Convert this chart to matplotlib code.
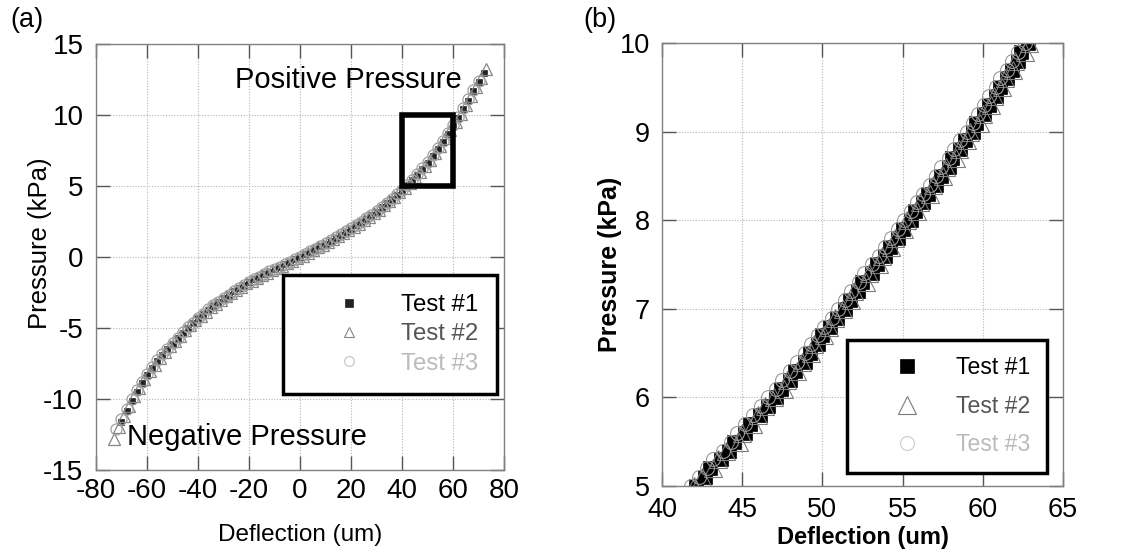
import matplotlib
matplotlib.use("Agg")
import matplotlib.pyplot as plt
from matplotlib.patches import Rectangle

plt.rcParams['font.family'] = ['Liberation Sans', 'DejaVu Sans']
plt.rcParams['axes.unicode_minus'] = False

# ---------------- Panel (a) data ----------------
defl_a1 = [-70, -68, -66, -64, -62, -60, -58, -56, -54, -52, -50, -48, -46, -44, -42, -40,
           -38, -36, -34, -32, -30, -28, -26, -24, -22, -20, -18, -16, -14, -12, -10, -8,
           -6, -4, -2, 0, 2, 4, 6, 8, 10, 12, 14, 16, 18, 20, 22, 24, 26, 28, 30, 32, 34,
           36, 38, 40, 42, 44, 46, 48, 50, 52, 54, 56, 58, 60, 62, 64, 66, 68, 70, 72]
press_a1 = [-11.60, -10.85, -10.15, -9.50, -8.90, -8.30, -7.82, -7.34, -6.90, -6.50, -6.10,
            -5.72, -5.34, -4.98, -4.64, -4.30, -4.00, -3.70, -3.42, -3.16, -2.90, -2.66,
            -2.42, -2.19, -1.97, -1.75, -1.57, -1.39, -1.21, -1.03, -0.85, -0.68, -0.51,
            -0.34, -0.17, 0.00, 0.19, 0.38, 0.57, 0.76, 0.95, 1.16, 1.37, 1.58, 1.79, 2.00,
            2.23, 2.47, 2.71, 2.95, 3.20, 3.49, 3.79, 4.09, 4.39, 4.70, 5.05, 5.41, 5.80,
            6.20, 6.60, 7.09, 7.59, 8.12, 8.66, 9.20, 9.80, 10.40, 11.02, 11.66, 12.30, 12.95]

defl_a2 = [-73, -71, -69, -67, -65, -63, -61, -59, -57, -55, -53, -51, -49, -47, -45, -43,
           -41, -39, -37, -35, -33, -31, -29, -27, -25, -23, -21, -19, -17, -15, -13, -11,
           -9, -7, -5, -3, -1, 1, 3, 5, 7, 9, 11, 13, 15, 17, 19, 21, 23, 25, 27, 29, 31,
           33, 35, 37, 39, 41, 43, 45, 47, 49, 51, 53, 55, 57, 59, 61, 63, 65, 67, 69, 71, 73]
press_a2 = [-12.80, -12.00, -11.22, -10.50, -9.80, -9.20, -8.60, -8.06, -7.58, -7.10, -6.70,
            -6.30, -5.91, -5.53, -5.15, -4.81, -4.47, -4.15, -3.85, -3.55, -3.29, -3.03,
            -2.78, -2.54, -2.30, -2.08, -1.86, -1.66, -1.48, -1.30, -1.12, -0.94, -0.77,
            -0.60, -0.43, -0.26, -0.09, 0.10, 0.29, 0.48, 0.67, 0.86, 1.06, 1.27, 1.48,
            1.69, 1.90, 2.12, 2.35, 2.59, 2.83, 3.08, 3.34, 3.64, 3.94, 4.24, 4.55, 4.87,
            5.23, 5.60, 6.00, 6.40, 6.85, 7.34, 7.85, 8.39, 8.93, 9.50, 10.10, 10.70, 11.34,
            11.98, 12.62, 13.27]

defl_a3 = [-72, -70, -68, -66, -64, -62, -60, -58, -56, -54, -52, -50, -48, -46, -44, -42,
           -40, -38, -36, -34, -32, -30, -28, -26, -24, -22, -20, -18, -16, -14, -12, -10,
           -8, -6, -4, -2, 0, 2, 4, 6, 8, 10, 12, 14, 16, 18, 20, 22, 24, 26, 28, 30, 32,
           34, 36, 38, 40, 42, 44, 46, 48, 50, 52, 54, 56, 58, 60, 62, 64, 66, 68, 70]
press_a3 = [-12.10, -11.40, -10.70, -10.00, -9.38, -8.80, -8.22, -7.74, -7.28, -6.85, -6.45,
            -6.06, -5.69, -5.31, -4.96, -4.62, -4.28, -3.98, -3.69, -3.41, -3.15, -2.89,
            -2.65, -2.41, -2.18, -1.96, -1.74, -1.56, -1.38, -1.20, -1.02, -0.84, -0.67,
            -0.50, -0.33, -0.16, 0.01, 0.20, 0.39, 0.58, 0.77, 0.96, 1.17, 1.38, 1.59, 1.80,
            2.01, 2.24, 2.48, 2.72, 2.96, 3.22, 3.51, 3.81, 4.11, 4.41, 4.73, 5.08, 5.45,
            5.85, 6.25, 6.66, 7.15, 7.66, 8.19, 8.73, 9.28, 9.88, 10.48, 11.10, 11.74, 12.38]

# ---------------- Panel (b) data ----------------
press_b = [5.0, 5.1, 5.2, 5.3, 5.4, 5.5, 5.6, 5.7, 5.8, 5.9, 6.0, 6.1, 6.2, 6.3, 6.4, 6.5,
           6.6, 6.7, 6.8, 6.9, 7.0, 7.1, 7.2, 7.3, 7.4, 7.5, 7.6, 7.7, 7.8, 7.9, 8.0, 8.1,
           8.2, 8.3, 8.4, 8.5, 8.6, 8.7, 8.8, 8.9, 9.0, 9.1, 9.2, 9.3, 9.4, 9.5, 9.6, 9.7,
           9.8, 9.9, 10.0]
defl_b1 = [42.1, 42.7, 43.0, 43.7, 44.2, 44.5, 45.2, 45.5, 46.1, 46.6, 47.1, 47.4, 48.0,
           48.3, 48.9, 49.2, 49.7, 50.0, 50.5, 50.9, 51.4, 51.7, 52.2, 52.5, 53.1, 53.4,
           53.9, 54.2, 54.7, 55.0, 55.5, 55.8, 56.3, 56.6, 57.1, 57.4, 57.9, 58.1, 58.6,
           58.9, 59.4, 59.6, 60.1, 60.4, 60.8, 61.1, 61.5, 61.8, 62.2, 62.4, 62.8]
defl_b2 = [42.0, 42.5, 43.2, 43.5, 44.0, 44.8, 45.0, 45.7, 46.0, 46.4, 47.0, 47.6, 47.8,
           48.4, 48.7, 49.3, 49.5, 50.1, 50.4, 50.8, 51.3, 51.8, 52.0, 52.7, 52.9, 53.5,
           53.7, 54.3, 54.5, 55.1, 55.3, 55.9, 56.1, 56.7, 56.9, 57.5, 57.7, 58.3, 58.5,
           59.0, 59.2, 59.8, 60.0, 60.5, 60.7, 61.2, 61.4, 61.9, 62.0, 62.6, 62.9]
defl_b3 = [41.8, 42.3, 42.8, 43.2, 43.8, 44.3, 44.7, 45.2, 45.7, 46.2, 46.6, 47.1, 47.5,
           48.0, 48.4, 48.9, 49.3, 49.7, 50.1, 50.6, 51.0, 51.4, 51.8, 52.3, 52.6, 53.1,
           53.5, 53.9, 54.3, 54.7, 55.1, 55.5, 55.9, 56.3, 56.7, 57.1, 57.4, 57.9, 58.2,
           58.6, 59.0, 59.4, 59.7, 60.1, 60.4, 60.8, 61.1, 61.5, 61.8, 62.2, 62.6]

labels = ["Test #1", "Test #2", "Test #3"]
text_colors = ["#000000", "#555555", "#bbbbbb"]

xticks_a = [-80, -60, -40, -20, 0, 20, 40, 60, 80]
yticks_a = [-15, -10, -5, 0, 5, 10, 15]
xticks_b = [40, 45, 50, 55, 60, 65]
yticks_b = [5, 6, 7, 8, 9, 10]
zoom_box = (40, 5, 20, 5)  # x0, y0, width, height in data units

W, H = 1138, 558
fig = plt.figure(figsize=(W / 100, H / 100), dpi=100)


def px_axes(l, r, t, b):
    return [l / W, 1 - b / H, (r - l) / W, (b - t) / H]


def style_axes(ax, tick_fs, pad_x, pad_y):
    for s in ax.spines.values():
        s.set_color("#808080")
        s.set_linewidth(1.0)
    ax.tick_params(direction="in", length=10, width=1.0, color="#555555",
                   top=True, right=True, labelsize=tick_fs, labelcolor="black")
    ax.tick_params(axis="x", pad=pad_x)
    ax.tick_params(axis="y", pad=pad_y)
    ax.grid(True, linestyle=(0, (1, 1.5)), color="#b5b5b5", linewidth=0.8)
    ax.set_axisbelow(True)


# ---------------- Panel (a) ----------------
axa = fig.add_axes(px_axes(96, 504, 44, 470))
style_axes(axa, 20, 6, 9)
axa.plot(defl_a1, press_a1, ls="none", marker="s", ms=5, mfc="#222222", mec="#222222",
         mew=0.5, label=labels[0])
axa.plot(defl_a2, press_a2, ls="none", marker="^", ms=8.5, mfc="none", mec="#858585",
         mew=0.9, label=labels[1])
axa.plot(defl_a3, press_a3, ls="none", marker="o", ms=8, mfc="none", mec="#a0a0a0",
         mew=0.9, label=labels[2])
axa.add_patch(Rectangle((zoom_box[0], zoom_box[1]), zoom_box[2], zoom_box[3],
                        fill=False, edgecolor="black", linewidth=4, zorder=5))
axa.set_xlim(-80, 80)
axa.set_ylim(-15, 15)
axa.set_xticks(xticks_a)
axa.set_yticks(yticks_a)
axa.set_xlabel("Deflection (um)", fontsize=17.5, labelpad=14)
axa.set_ylabel("Pressure (kPa)", fontsize=18.5)
axa.yaxis.set_label_coords(-0.108, 0.533)
axa.text(-25.5, 12.5, "Positive Pressure", fontsize=21, va="center", ha="left")
axa.text(-67.8, -12.7, "Negative Pressure", fontsize=21, va="center", ha="left")
lega = axa.legend(loc="upper left", bbox_to_anchor=(0.458, 0.458), borderaxespad=0,
                  fontsize=17.3, frameon=True, fancybox=False, framealpha=1,
                  edgecolor="black", borderpad=0.8, labelspacing=0.3,
                  handlelength=3.9, handletextpad=0.2, markerscale=1.0)
lega.get_frame().set_linewidth(2.5)
for t, c in zip(lega.get_texts(), text_colors):
    t.set_color(c)
lega.get_lines()[0].set_markersize(6)
lega.get_lines()[1].set_markersize(7.5)
lega.get_lines()[1].set_markeredgewidth(0.8)
lega.get_lines()[2].set_markersize(7)
lega.get_lines()[2].set_markeredgecolor("#c8c8c8")
lega.set_zorder(10)

# ---------------- Panel (b) ----------------
axb = fig.add_axes(px_axes(662, 1063, 43, 486))
style_axes(axb, 19.5, 8, 8.5)
axb.plot(defl_b1, press_b, ls="none", marker="s", ms=9.5, mfc="black", mec="black",
         mew=0.5, label=labels[0])
axb.plot(defl_b2, press_b, ls="none", marker="^", ms=13, mfc="none", mec="#7a7a7a",
         mew=0.8, label=labels[1])
axb.plot(defl_b3, press_b, ls="none", marker="o", ms=10, mfc="none", mec="#9a9a9a",
         mew=0.8, label=labels[2])
axb.set_xlim(40, 65)
axb.set_ylim(5, 10)
axb.set_xticks(xticks_b)
axb.set_yticks(yticks_b)
axb.set_xlabel("Deflection (um)", fontsize=17, fontweight="bold", labelpad=2)
axb.set_ylabel("Pressure (kPa)", fontsize=18, fontweight="bold")
axb.yaxis.set_label_coords(-0.10, 0.5)
legb = axb.legend(loc="upper left", bbox_to_anchor=(0.461, 0.330), borderaxespad=0,
                  fontsize=16.6, frameon=True, fancybox=False, framealpha=1,
                  edgecolor="black", borderpad=0.72, labelspacing=0.67,
                  handlelength=3.8, handletextpad=0.22, markerscale=1.0)
legb.get_frame().set_linewidth(2.5)
for t, c in zip(legb.get_texts(), text_colors):
    t.set_color(c)
legb.get_lines()[2].set_markeredgecolor("#cccccc")

fig.text(10 / W, 1 - 20 / H, "(a)", fontsize=19.5, va="center", ha="left")
fig.text(583 / W, 1 - 20 / H, "(b)", fontsize=19.5, va="center", ha="left")

fig.savefig("out.png", dpi=100)
